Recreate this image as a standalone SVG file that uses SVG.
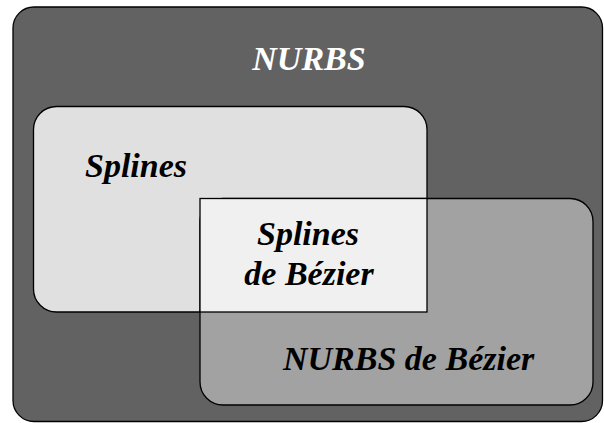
<svg xmlns="http://www.w3.org/2000/svg" width="604" height="423" viewBox="0 0 604 423">
<style>
text{font-family:"Liberation Serif","Times New Roman",serif;font-weight:bold;font-style:italic;font-size:34px;fill:#000}
.box{stroke:#000;stroke-width:1.3}
</style>
<rect width="604" height="423" fill="#fff"/>
<g id="nurbs">
<rect class="box" x="13" y="7" width="589.5" height="414.5" rx="21" fill="#626262" stroke-width="2"/>
<text x="309" y="70" text-anchor="middle" style="fill:#fff">NURBS</text>
</g>
<g id="splines">
<rect class="box" x="33.5" y="106.5" width="393.5" height="205.5" rx="23" fill="#e0e0e0"/>
<text x="85" y="177">Splines</text>
</g>
<g id="nurbs-bezier">
<rect class="box" x="200" y="198.5" width="393" height="206.5" rx="23" fill="#a2a2a2"/>
<text x="283" y="370">NURBS de Bézier</text>
</g>
<g id="splines-bezier">
<rect class="box" x="200" y="198.5" width="227" height="113.5" fill="#f0f0f0"/>
<text x="308" y="245" text-anchor="middle">Splines</text>
<text x="309" y="285" text-anchor="middle">de Bézier</text>
</g>
<g id="connectors"></g>
</svg>
